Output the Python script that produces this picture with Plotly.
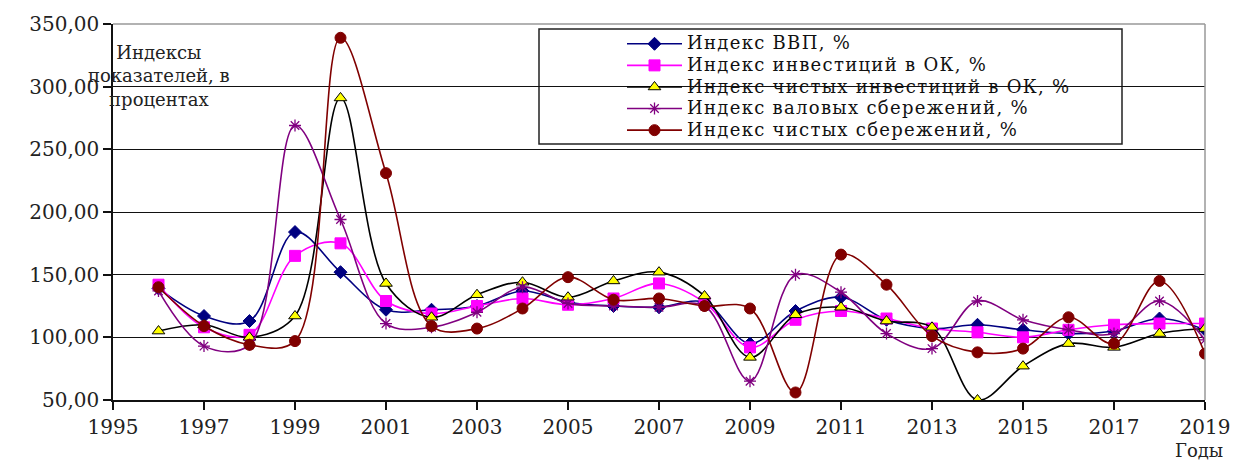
import plotly.graph_objects as go

# Years on the horizontal axis
years = list(range(1996, 2020))

# Index values, percent
gdp_index = [139, 117, 113, 184, 152, 122, 122, 125, 137, 128, 125, 124,
             128, 95, 121, 132, 114, 107, 110, 106, 103, 105, 115, 106]
fixed_capital_inv = [142, 108, 102, 165, 175, 129, 119, 125, 131, 126, 131, 143,
                     128, 92, 114, 121, 115, 107, 104, 100, 106, 110, 111, 111]
net_fixed_capital_inv = [105, 110, 100, 117, 291, 143, 116, 134, 144, 132, 145, 152,
                         133, 84, 118, 124, 113, 108, 50, 77, 95, 92, 103, 107]
gross_savings = [137, 93, 94, 269, 194, 111, 108, 120, 140, 127, 125, 124,
                 125, 65, 150, 136, 103, 91, 129, 114, 106, 103, 129, 98]
net_savings = [140, 109, 94, 97, 339, 231, 109, 107, 123, 148, 130, 131,
               125, 123, 56, 166, 142, 101, 88, 91, 116, 95, 145, 87]

series_names = [
    "Индекс ВВП, %",
    "Индекс инвестиций в ОК, %",
    "Индекс чистых инвестиций в ОК, %",
    "Индекс валовых сбережений, %",
    "Индекс чистых сбережений, %",
]

x_ticks = list(range(1995, 2020, 2))
y_ticks = [50, 100, 150, 200, 250, 300, 350]

FONT = "DejaVu Serif, Liberation Serif, Times New Roman, serif"
W, H = 1235, 461
L, R, T, B = 113, 30, 24, 61
PW, PH = W - L - R, H - T - B


def px_x(p):
    return (p - L) / PW


def px_y(p):
    return 1 - (p - T) / PH


fig = go.Figure()

styles = [
    dict(data=gdp_index, line="#000080",
         marker=dict(symbol="diamond", size=10, color="#000080",
                     line=dict(color="#000080", width=1))),
    dict(data=fixed_capital_inv, line="#FF00FF",
         marker=dict(symbol="square", size=11, color="#FF00FF",
                     line=dict(color="#FF00FF", width=1))),
    dict(data=net_fixed_capital_inv, line="#000000",
         marker=dict(symbol="triangle-up", size=11, color="#FFFF00",
                     line=dict(color="#000000", width=1))),
    dict(data=gross_savings, line="#800080",
         marker=dict(symbol="asterisk-open", size=10, color="#800080",
                     line=dict(color="#800080", width=1.3))),
    dict(data=net_savings, line="#800000",
         marker=dict(symbol="circle", size=11, color="#800000",
                     line=dict(color="#800000", width=1))),
]

LEGEND_TEXT_STYLE = "font-size:18px;letter-spacing:1.3px"

for name, st in zip(series_names, styles):
    fig.add_trace(go.Scatter(
        x=years, y=st["data"],
        name=f'<span style="{LEGEND_TEXT_STYLE}">{name}</span>',
        mode="lines+markers",
        line=dict(color=st["line"], width=1.6, shape="spline", smoothing=1.0),
        marker=st["marker"],
    ))

# legend frame
fig.add_shape(type="rect", xref="paper", yref="paper",
              x0=px_x(539), x1=px_x(1122), y0=px_y(144), y1=px_y(29),
              fillcolor="white", line=dict(color="#222", width=1.5),
              layer="between")

# grey frame on the top and right edges of the plot area
fig.add_shape(type="line", xref="paper", yref="paper", x0=0, x1=1, y0=1, y1=1,
              line=dict(color="#999", width=1.5))
fig.add_shape(type="line", xref="paper", yref="paper", x0=1, x1=1, y0=0, y1=1,
              line=dict(color="#999", width=1.5))

fig.add_annotation(
    text="Индексы<br>показателей, в<br>процентах",
    xref="paper", yref="paper", x=px_x(159), y=px_y(40),
    xanchor="center", yanchor="top", showarrow=False, align="center",
    font=dict(family=FONT, size=18, color="#222"),
)
fig.add_annotation(
    text="Годы", xref="paper", yref="paper", x=px_x(1223), y=px_y(461),
    xanchor="right", yanchor="bottom", showarrow=False,
    borderpad=0, borderwidth=0,
    font=dict(family=FONT, size=18, color="#222"),
)

fig.update_layout(
    width=W, height=H,
    margin=dict(l=L, r=R, t=T, b=B, pad=0, autoexpand=False),
    paper_bgcolor="white", plot_bgcolor="white",
    separators=", ",
    font=dict(family=FONT, size=18, color="#222"),
    showlegend=True,
    legend=dict(
        x=px_x(622), y=px_y(28), xanchor="left", yanchor="top",
        bgcolor="rgba(0,0,0,0)", borderwidth=0,
        font=dict(family=FONT, size=14.3, color="#111"),
        itemwidth=55, tracegroupgap=0, itemsizing="trace",
    ),
    xaxis=dict(
        range=[1995, 2019], tickvals=x_ticks, ticktext=[str(t) for t in x_ticks],
        showgrid=False, zeroline=False, showline=True, linecolor="#111",
        linewidth=1.5, ticks="outside", ticklen=8, tickwidth=1.5, tickcolor="#111",
        tickfont=dict(family=FONT, size=20, color="#222"), automargin=False,
    ),
    yaxis=dict(
        range=[50, 350], tickvals=y_ticks, tickformat=".2f",
        showgrid=True, gridcolor="#111", gridwidth=1.3, zeroline=False,
        showline=True, linecolor="#111", linewidth=1.5,
        ticks="outside", ticklen=8, tickwidth=1.5, tickcolor="#111",
        tickfont=dict(family=FONT, size=20, color="#222"), automargin=False,
    ),
)

fig.write_html("out.html")
